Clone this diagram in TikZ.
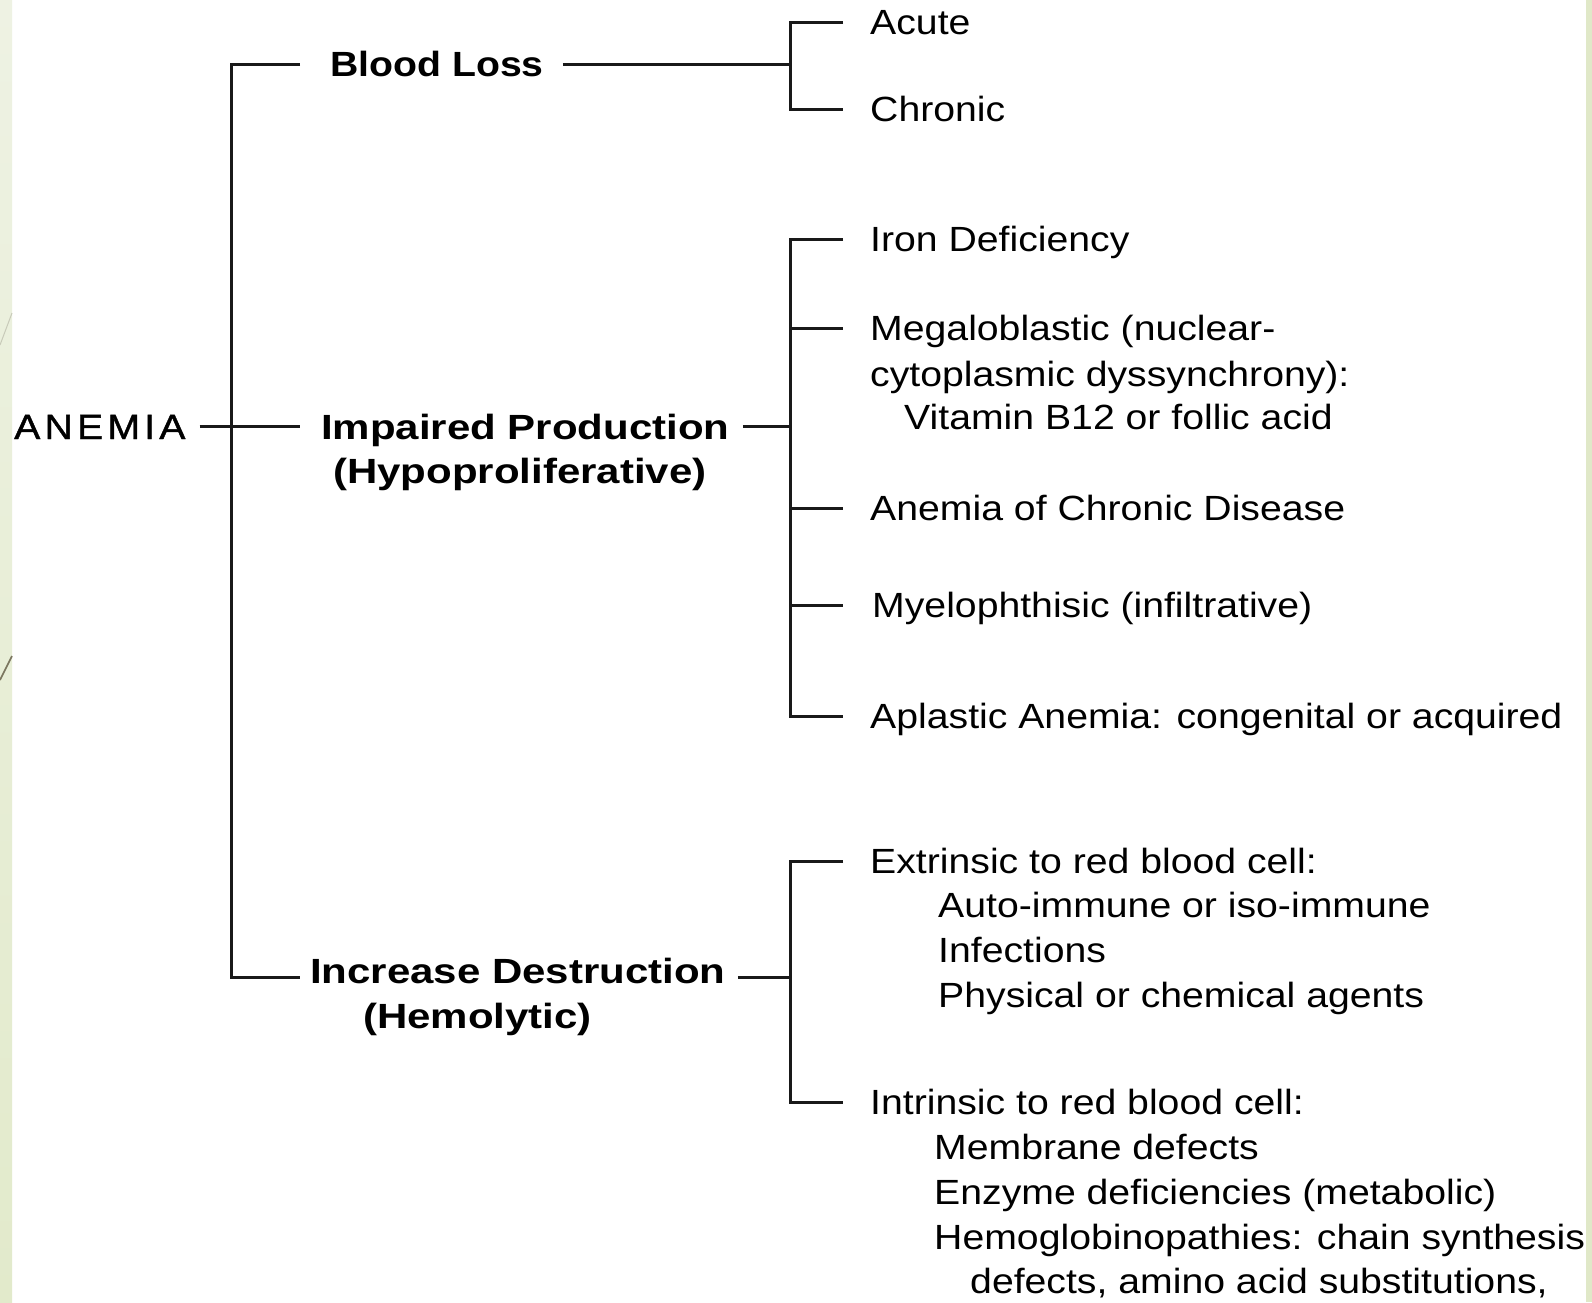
\documentclass[tikz,border=0pt]{standalone}
\usepackage{fontspec}
\setmainfont{Liberation Sans}[FakeStretch=1.12]
\newfontfamily\catfont{Liberation Sans}[FakeStretch=1.2]
\newfontfamily\catfontn{Liberation Sans}[FakeStretch=1.12]
\newfontfamily\topfont{Liberation Sans}[FakeStretch=1.12,LetterSpace=12,FakeBold=1.2]
\definecolor{stripTop}{RGB}{238,242,227}
\definecolor{stripBot}{RGB}{226,234,203}
\definecolor{stripR}{RGB}{224,232,200}
\definecolor{diagLight}{RGB}{200,202,185}
\definecolor{diagDark}{RGB}{123,118,95}
\begin{document}
\begin{tikzpicture}[x=1pt,y=-1pt,
  lbl/.style={anchor=base west,inner sep=0pt,font=\fontsize{35pt}{44pt}\selectfont},
  cat/.style={lbl,font=\fontsize{35pt}{44pt}\catfont\bfseries},
  conn/.style={line width=3pt,black!90}]
\useasboundingbox (0,0) rectangle (1592,1302);
\fill[white] (0,0) rectangle (1592,1302);
\shade[top color=stripTop,bottom color=stripBot] (0,0) rectangle (12,1302);
\fill[stripR] (1586,0) rectangle (1592,1302);
\draw[diagLight,line width=1pt] (0,345) -- (12,313);
\draw[diagDark,line width=1.6pt] (0,680) -- (12,656);

% nodes
\node[lbl,font=\fontsize{35pt}{44pt}\topfont] (anemia) at (14,439) {ANEMIA};
\node[cat,font=\fontsize{35pt}{44pt}\catfontn\bfseries] (blood) at (330,76.5) {Blood Loss};
\node[cat] (impaired) at (321,439) {Impaired Production};
\node[cat] (hypo) at (333,483.5) {(Hypoproliferative)};
\node[cat] (increase) at (310,983.5) {Increase Destruction};
\node[cat] (hemol) at (363,1028) {(Hemolytic)};

\node[lbl] (acute) at (870,34.5) {Acute};
\node[lbl] (chronic) at (870,121.5) {Chronic};

\node[lbl] (iron) at (870,251.5) {Iron Deficiency};
\node[lbl] (mega) at (870,340.5) {Megaloblastic (nuclear-};
\node[lbl] (cyto) at (870,386.5) {cytoplasmic dyssynchrony):};
\node[lbl] (vitb) at (904,429.5) {Vitamin B12 or follic acid};
\node[lbl] (acd) at (870,520.5) {Anemia of Chronic Disease};
\node[lbl] (myelo) at (872,617.5) {Myelophthisic (infiltrative)};
\node[lbl] (aplastic) at (870,728.5) {Aplastic Anemia: congenital or acquired};

\node[lbl] (extr) at (870,873.5) {Extrinsic to red blood cell:};
\node[lbl] (auto) at (938,917.5) {Auto-immune or iso-immune};
\node[lbl] (infect) at (938,962.5) {Infections};
\node[lbl] (phys) at (938,1007.5) {Physical or chemical agents};
\node[lbl] (intr) at (870,1114.5) {Intrinsic to red blood cell:};
\node[lbl] (membr) at (934,1159.5) {Membrane defects};
\node[lbl] (enzyme) at (934,1204.5) {Enzyme deficiencies (metabolic)};
\node[lbl] (hemo) at (934,1249.5) {Hemoglobinopathies: chain synthesis};
\node[lbl] (defects) at (970,1293.5) {defects, amino acid substitutions,};

% junction coordinates
\coordinate (sTop) at (231,64);
\coordinate (sMid) at (231,426.5);
\coordinate (sBot) at (231,977);
\coordinate (b1a) at (790,22);
\coordinate (b1m) at (790,64);
\coordinate (b1b) at (790,109);
\coordinate (b2a) at (790,239);
\coordinate (b2b) at (790,328);
\coordinate (b2m) at (790,426.5);
\coordinate (b2c) at (790,508);
\coordinate (b2d) at (790,605);
\coordinate (b2e) at (790,716);
\coordinate (b3a) at (790,861);
\coordinate (b3m) at (790,977);
\coordinate (b3b) at (790,1102);

% main spine
\draw[conn] ([xshift=-30pt]blood.west |- sTop) -- (sTop) -- (sBot) -- ([xshift=-10pt]increase.west |- sBot);
\draw[conn] ([xshift=14pt]anemia.east |- sMid) -- ([xshift=-21pt]impaired.west |- sMid);

% category to bracket
\draw[conn] ([xshift=19pt]blood.east |- b1m) -- (b1m);
\draw[conn] ([xshift=13pt]impaired.east |- b2m) -- (b2m);
\draw[conn] ([xshift=12pt]increase.east |- b3m) -- (b3m);

% brackets
\draw[conn] ([xshift=-27pt]acute.west |- b1a) -- (b1a) -- (b1b) -- ([xshift=-27pt]chronic.west |- b1b);
\draw[conn] ([xshift=-27pt]iron.west |- b2a) -- (b2a) -- (b2e) -- ([xshift=-27pt]aplastic.west |- b2e);
\draw[conn] (b2b) -- ([xshift=-27pt]mega.west |- b2b);
\draw[conn] (b2c) -- ([xshift=-27pt]acd.west |- b2c);
\draw[conn] (b2d) -- ([xshift=-29pt]myelo.west |- b2d);
\draw[conn] ([xshift=-27pt]extr.west |- b3a) -- (b3a) -- (b3b) -- ([xshift=-27pt]intr.west |- b3b);
\end{tikzpicture}
\end{document}
